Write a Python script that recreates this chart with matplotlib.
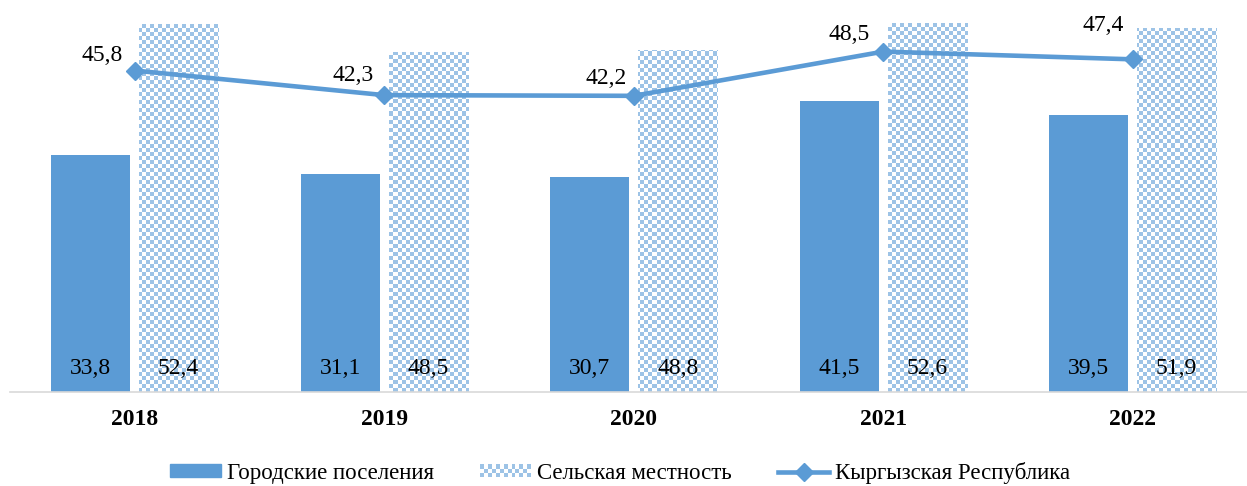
import matplotlib
matplotlib.use("Agg")
import matplotlib.pyplot as plt
import numpy as np
from matplotlib.legend_handler import HandlerBase
from matplotlib.patches import Rectangle
from matplotlib.lines import Line2D

years = ["2018", "2019", "2020", "2021", "2022"]
urban = [33.8, 31.1, 30.7, 41.5, 39.5]
rural = [52.4, 48.5, 48.8, 52.6, 51.9]
republic = [45.8, 42.3, 42.2, 48.5, 47.4]
series_names = ["Городские поселения", "Сельская местность", "Кыргызская Республика"]

BLUE = "#5B9BD5"
CHECK = "#9DC3E6"
plt.rcParams["font.family"] = ["Liberation Serif", "DejaVu Serif"]
FS = 17
LFS = 16.5

W, H = 1247, 486
fig = plt.figure(figsize=(W / 100, H / 100), dpi=100)
ax_l, ax_r, ax_b, ax_t = 10, 1247, 392, 6
ax = fig.add_axes([ax_l / W, 1 - ax_b / H, (ax_r - ax_l) / W, (ax_b - ax_t) / H])

x = np.arange(len(years))
bw = 0.317
off = 0.176
ax.bar(x - off, urban, bw, color=BLUE, zorder=2)
rbars = ax.bar(x + off, rural, bw, color="white", edgecolor="none", zorder=2)

# checkerboard texture for rural bars
cell = 4
nx = int(np.ceil((ax_r - ax_l) / cell))
ny = int(np.ceil((ax_b - ax_t) / cell))
yy, xx = np.mgrid[0:ny, 0:nx]
mask = ((xx + yy) % 2 == 0)
img = np.ones((ny, nx, 3))
c = np.array(matplotlib.colors.to_rgb(CHECK))
img[mask] = c
for b in rbars:
    im = ax.imshow(img, extent=(0, 1, 0, ny * cell / (ax_b - ax_t)), transform=ax.transAxes,
                   aspect="auto", interpolation="nearest", zorder=2.5, origin="lower")
    im.set_clip_path(b)

ax.plot(x, republic, color=BLUE, lw=3.3, marker="D", ms=9.5, zorder=4,
        solid_capstyle="round")

ax.set_xlim(-0.5, 4.5 - 10.5 / 249.5)
ax.set_ylim(0, 55)

for xi, u, r in zip(x, urban, rural):
    ax.annotate(f"{u:.1f}".replace(".", ","), (xi - off, 0), xytext=(0, 24), textcoords="offset pixels",
                ha="center", va="center", fontsize=FS, zorder=5)
    ax.annotate(f"{r:.1f}".replace(".", ","), (xi + off, 0), xytext=(0, 24), textcoords="offset pixels",
                ha="center", va="center", fontsize=FS, zorder=5)

lbl_off = [(-33, 15), (-31, 20), (-28, 17), (-34, 17), (-30, 34)]
for xi, v, (dx, dy) in zip(x, republic, lbl_off):
    ax.annotate(f"{v:.1f}".replace(".", ","), (xi, v), xytext=(dx, dy), textcoords="offset pixels",
                ha="center", va="center", fontsize=FS, zorder=5)

ax.set_xticks(x)
ax.set_xticklabels(years, fontsize=FS, fontweight="bold")
ax.tick_params(axis="x", length=0, pad=12)
ax.set_yticks([])
for s in ["top", "right", "left"]:
    ax.spines[s].set_visible(False)
ax.spines["bottom"].set_color("#D9D9D9")
ax.spines["bottom"].set_linewidth(1.2)
ax.spines["bottom"].set_zorder(3)


class CheckerHandler(HandlerBase):
    def create_artists(self, legend, orig_handle, xdescent, ydescent, width, height, fontsize, trans):
        arts = []
        ncol, nrow = 13, 3
        cw, ch = width / ncol, height / nrow
        for i in range(ncol):
            for j in range(nrow):
                col = CHECK if (i + j) % 2 == 0 else "white"
                arts.append(Rectangle((-xdescent + i * cw, -ydescent + j * ch), cw, ch,
                                      facecolor=col, edgecolor="none", transform=trans))
        return arts


h1 = Rectangle((0, 0), 1, 1, color=BLUE)
h2 = Rectangle((0, 0), 1, 1, color=CHECK)
h3 = Line2D([], [], color=BLUE, lw=3.3, marker="D", ms=9.5, markevery=[1])
h3.set_data([0, 1], [0, 0])
leg = fig.legend([h1, h2, h3], series_names, loc="center", bbox_to_anchor=(620 / W, 1 - 473 / H),
                 ncol=3, frameon=False, fontsize=LFS, handlelength=2.2, handleheight=0.48,
                 handletextpad=0.25, columnspacing=2.05,
                 handler_map={h2: CheckerHandler()})

fig.savefig("out.png", dpi=100)
